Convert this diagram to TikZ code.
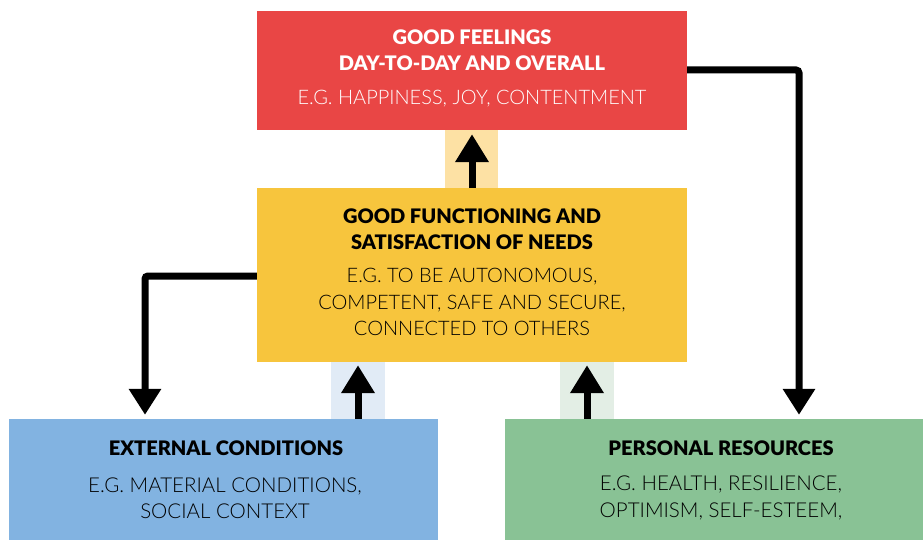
\documentclass[tikz,border=0pt]{standalone}
\usepackage{fontspec}
\setmainfont{Lato}
\newfontfamily\headf{Lato Black}
\newfontfamily\lightf{Lato Light}
\usetikzlibrary{arrows.meta,calc}
\definecolor{cred}{HTML}{E94645}
\definecolor{cyellow}{HTML}{F7C53D}
\definecolor{cblue}{HTML}{82B3E1}
\definecolor{cgreen}{HTML}{89C295}
\definecolor{pyellow}{HTML}{FDE1A4}
\definecolor{pblue}{HTML}{E1EBF6}
\definecolor{pgreen}{HTML}{E3EEE5}
\tikzset{
  box/.style={rectangle, draw=none, inner sep=0pt},
  head/.style={inner sep=0pt, align=center, font=\headf\fontsize{20}{25.5}\selectfont},
  body/.style={inner sep=0pt, align=center, font=\lightf\fontsize{20}{26.5}\selectfont},
  bodyb/.style={inner sep=0pt, align=center, font=\lightf\fontsize{20.5}{26.5}\selectfont},
  conn/.style={line width=7pt, rounded corners=3pt, -{Triangle[width=31pt,length=26pt]}},
  upar/.style={line width=7pt, -{Triangle[width=32pt,length=28pt]}},
}
\begin{document}
\begin{tikzpicture}[x=1pt,y=-1pt]
\useasboundingbox (0,0) rectangle (923,540);
% boxes
\node[box, fill=cred, minimum width=430pt, minimum height=119pt] (feel) at (472,70.5) {};
\node[box, fill=cyellow, minimum width=430pt, minimum height=174pt] (func) at (472,275) {};
\node[box, fill=cblue, minimum width=429pt, minimum height=130pt] (ext) at (223.5,484) {};
\node[box, fill=cgreen, minimum width=420pt, minimum height=130pt] (res) at (715,484) {};
% pale bands
\fill[pyellow] (445,130) rectangle (498,188);
\fill[pblue] (331,362) rectangle (385,419);
\fill[pgreen] (560,362) rectangle (614,419);
% texts
\node[head, text=white] (feelh) at (472,50) {GOOD FEELINGS\\DAY-TO-DAY AND OVERALL};
\node[body, text=white] (feelb) at (472,99) {E.G. HAPPINESS, JOY, CONTENTMENT};
\node[head] (funch) at (472,229) {GOOD FUNCTIONING AND\\SATISFACTION OF NEEDS};
\node[body] (funcb) at (472,302) {E.G. TO BE AUTONOMOUS,\\COMPETENT, SAFE AND SECURE,\\CONNECTED TO OTHERS};
\node[head] (exth) at (226,448) {EXTERNAL CONDITIONS};
\node[bodyb] (extb) at (225,498) {E.G. MATERIAL CONDITIONS,\\SOCIAL CONTEXT};
\node[head] (resh) at (721,448) {PERSONAL RESOURCES};
\node[bodyb] (resb) at (721,498) {E.G. HEALTH, RESILIENCE,\\OPTIMISM, SELF-ESTEEM,};
% connectors
\coordinate (rc) at (799,70);
\coordinate (lc) at (145,276);
\draw[conn, shorten >=4pt] (feel.east |- rc) -- (rc) -- (res.north -| rc);
\draw[conn, shorten >=4pt] (func.west |- lc) -- (lc) -- (ext.north -| lc);
\coordinate (u1) at (472,0);
\coordinate (u2) at (358,0);
\coordinate (u3) at (587,0);
\draw[upar, shorten >=4pt] (func.north -| u1) -- (feel.south -| u1);
\draw[upar, shorten >=3pt] (ext.north -| u2) -- (func.south -| u2);
\draw[upar, shorten >=3pt] (res.north -| u3) -- (func.south -| u3);
\end{tikzpicture}
\end{document}
